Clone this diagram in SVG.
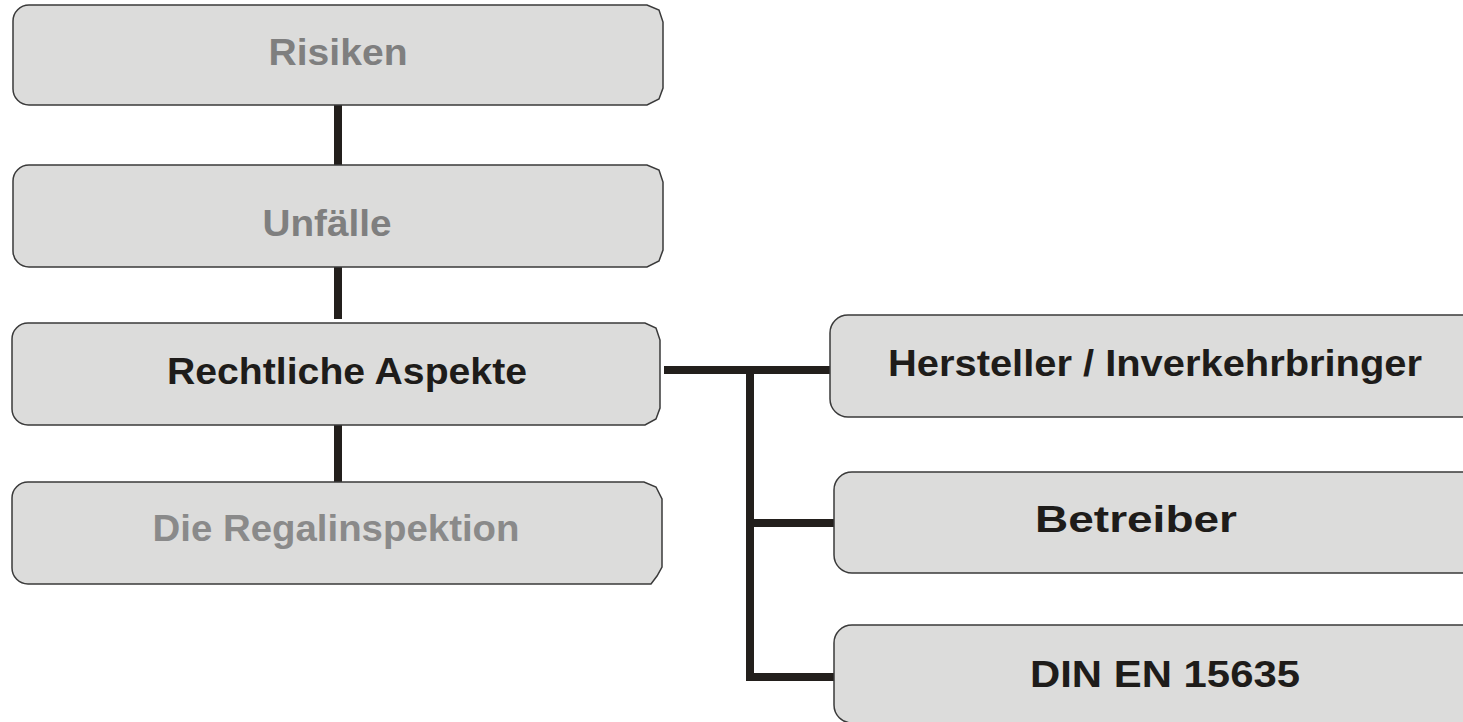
<svg xmlns="http://www.w3.org/2000/svg" width="1463" height="722" viewBox="0 0 1463 722">
<style>
.box{fill:#dcdcdb;stroke:#3a3a3a;stroke-width:1.5}
.t{font-family:"Liberation Sans",Arial,sans-serif;font-weight:bold;font-size:36px;text-anchor:middle}
.g{fill:#7f7f7f}
.lg{fill:#8a8a8a}
.k{fill:#1e1c1a}
.c{stroke:#231f1c;fill:none;stroke-width:8}
</style>
<rect width="1463" height="722" fill="#ffffff"/>
<g id="connectors">
<line class="c" x1="338" y1="105" x2="338" y2="165"/>
<line class="c" x1="338" y1="267" x2="338" y2="319"/>
<line class="c" x1="338" y1="425" x2="338" y2="483"/>
<line class="c" x1="664" y1="370" x2="830" y2="370"/>
<line class="c" x1="750" y1="370" x2="750" y2="681"/>
<line class="c" x1="746" y1="523" x2="834" y2="523"/>
<line class="c" x1="746" y1="677" x2="834" y2="677"/>
</g>
<g id="risiken">
<path class="box" d="M29,5 H647 L659,10 L663,22 V88 L659,99 L647,105 H29 A16,16 0 0 1 13,89 V21 A16,16 0 0 1 29,5 Z"/>
<text class="t g" x="338" y="65" textLength="139" lengthAdjust="spacingAndGlyphs">Risiken</text>
</g>
<g id="unfaelle">
<path class="box" d="M29,165 H647 L659,170 L663,182 V250 L659,261 L647,267 H29 A16,16 0 0 1 13,251 V181 A16,16 0 0 1 29,165 Z"/>
<text class="t g" x="327" y="236" textLength="129" lengthAdjust="spacingAndGlyphs">Unfälle</text>
</g>
<g id="rechtliche">
<path class="box" d="M28,323 H645 L656,328 L660,340 V408 L656,419 L645,425 H28 A16,16 0 0 1 12,409 V339 A16,16 0 0 1 28,323 Z"/>
<text class="t k" x="347" y="384" textLength="360" lengthAdjust="spacingAndGlyphs">Rechtliche Aspekte</text>
</g>
<g id="regalinspektion">
<path class="box" d="M28,482 H644 L656,487 L662,499 V567 L657,576 L651,584 H28 A16,16 0 0 1 12,568 V498 A16,16 0 0 1 28,482 Z"/>
<text class="t lg" x="336" y="541" textLength="367" lengthAdjust="spacingAndGlyphs">Die Regalinspektion</text>
</g>
<g id="hersteller">
<path class="box" d="M1470,315 H848 A18,18 0 0 0 830,333 V399 A18,18 0 0 0 848,417 H1470"/>
<text class="t k" x="1155" y="376" textLength="534" lengthAdjust="spacingAndGlyphs">Hersteller / Inverkehrbringer</text>
</g>
<g id="betreiber">
<path class="box" d="M1470,472 H852 A18,18 0 0 0 834,490 V555 A18,18 0 0 0 852,573 H1470"/>
<text class="t k" x="1136" y="532" textLength="202" lengthAdjust="spacingAndGlyphs">Betreiber</text>
</g>
<g id="din">
<path class="box" d="M1470,625 H852 A18,18 0 0 0 834,643 V705 A18,18 0 0 0 852,723 H1470"/>
<text class="t k" x="1165" y="687" textLength="270" lengthAdjust="spacingAndGlyphs">DIN EN 15635</text>
</g>
</svg>
